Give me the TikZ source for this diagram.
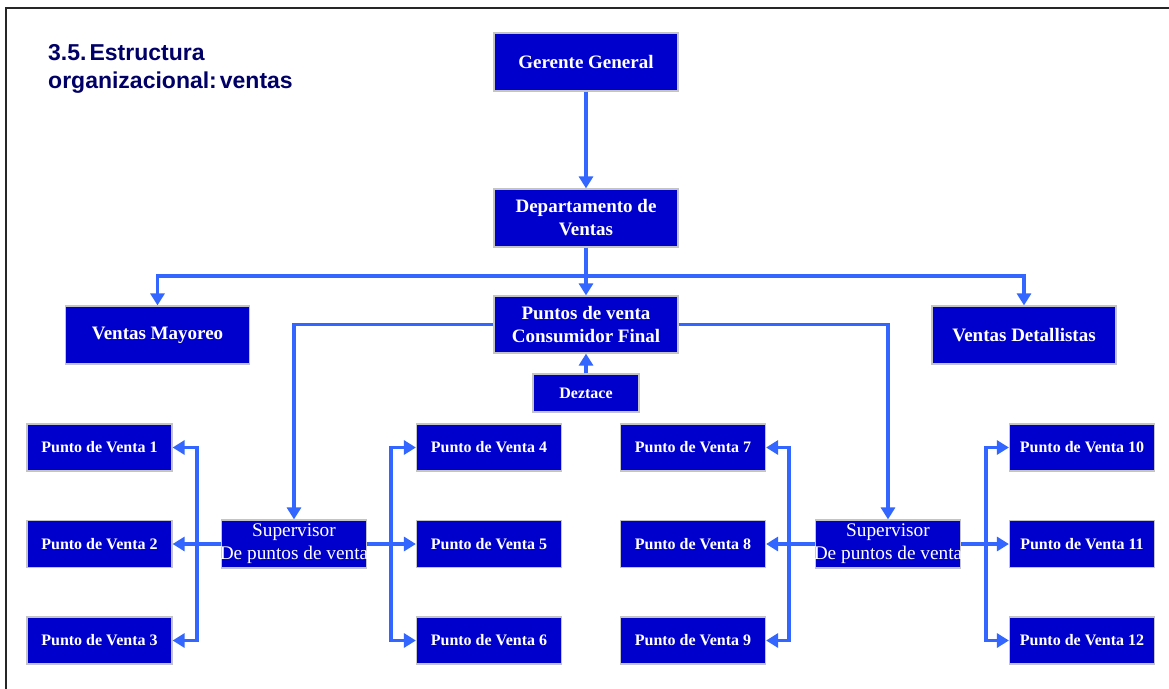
\documentclass[tikz,border=0pt]{standalone}
\usepackage{fontspec}
\setmainfont{Liberation Serif}
\newfontfamily\titlefont{Liberation Sans}
\usetikzlibrary{arrows.meta}
\definecolor{boxblue}{HTML}{0000CC}
\definecolor{linkblue}{HTML}{3366FF}
\definecolor{titlenavy}{HTML}{000066}
\definecolor{edgegray}{HTML}{C4C4C4}
\newcommand{\suplines}{\makebox[145pt]{Supervisor}\\\makebox[145pt]{De puntos de venta}}
\tikzset{
  orgbox/.style={fill=boxblue, draw=edgegray, line width=1.2pt, text=white,
    inner sep=0pt, align=center},
  bigbox/.style={orgbox, minimum width=184pt, minimum height=58pt,
    font=\bfseries\fontsize{19}{23}\selectfont},
  pvbox/.style={orgbox, minimum width=145pt, minimum height=47pt,
    font=\bfseries\fontsize{16}{19}\selectfont},
  supbox/.style={orgbox, minimum width=145pt, minimum height=48pt,
    font=\fontsize{19.3}{23}\selectfont},
  link/.style={draw=linkblue, line width=3.8pt, line join=miter},
  arr/.style={link, -{Triangle[length=12pt,width=14pt]}},
  biarr/.style={link, {Triangle[length=12pt,width=14pt]}-{Triangle[length=12pt,width=14pt]}},
}
\begin{document}
\begin{tikzpicture}[x=1pt,y=-1pt]
\useasboundingbox (0,0) rectangle (1169,688);
% page frame
\draw[line width=2pt, black!85] (6,700) -- (6,8) -- (1180,8);

% heading
\node[anchor=base west, inner sep=0pt, text=titlenavy,
      font=\titlefont\bfseries\fontsize{23}{28}\selectfont] (heading) at (48,60)
  {\begin{tabular}[t]{@{}l@{}}3.5.\hspace{3pt}Estructura\\organizacional:\hspace{3pt}ventas\end{tabular}};

% upper levels
\node[bigbox] (gg) at (586,62) {Gerente General};
\node[bigbox] (dv) at (586,218) {Departamento de\\Ventas};
\node[bigbox] (vm) at (157.5,335) {Ventas Mayoreo};
\node[bigbox, minimum height=57pt] (pc) at (586,324.5) {Puntos de venta\\Consumidor Final};
\node[bigbox] (vd) at (1024,335) {Ventas Detallistas};
\node[orgbox, minimum width=106pt, minimum height=38pt,
      font=\bfseries\fontsize{16}{19}\selectfont] (dz) at (586,393) {Deztace};

% supervisors
\node[supbox] (supl) at (294,544) {\suplines};
\node[supbox] (supr) at (888,544) {\suplines};

% points of sale
\foreach \n/\x/\y in {1/99.5/447.5, 2/99.5/544, 3/99.5/640.5,
                      4/489/447.5, 5/489/544, 6/489/640.5,
                      7/693/447.5, 8/693/544, 9/693/640.5,
                      10/1082/447.5, 11/1082/544, 12/1082/640.5}
  \node[pvbox] (pv\n) at (\x,\y) {Punto de Venta \n};

% junctions
\coordinate (jn) at (586,276);
\coordinate (bl1) at (197,544);
\coordinate (br1) at (391,544);
\coordinate (bl2) at (789,544);
\coordinate (br2) at (986,544);

% connectors
\draw[arr] (gg.south) -- (dv.north);
\draw[arr] (dv.south) -- (pc.north);
\draw[arr] (jn) -| (vm.north);
\draw[arr] (jn) -| (vd.north);
\draw[arr] (dz.north) -- (pc.south);
\draw[arr] (pc.west) -| (supl.north);
\draw[arr] (pc.east) -| (supr.north);

\draw[biarr] (pv1.east) -| (bl1) |- (pv3.east);
\draw[arr] (supl.west |- pv2) -- (pv2.east);
\draw[biarr] (pv4.west) -| (br1) |- (pv6.west);
\draw[arr] (supl.east |- pv5) -- (pv5.west);

\draw[biarr] (pv7.east) -| (bl2) |- (pv9.east);
\draw[arr] (supr.west |- pv8) -- (pv8.east);
\draw[biarr] (pv10.west) -| (br2) |- (pv12.west);
\draw[arr] (supr.east |- pv11) -- (pv11.west);
\end{tikzpicture}
\end{document}
